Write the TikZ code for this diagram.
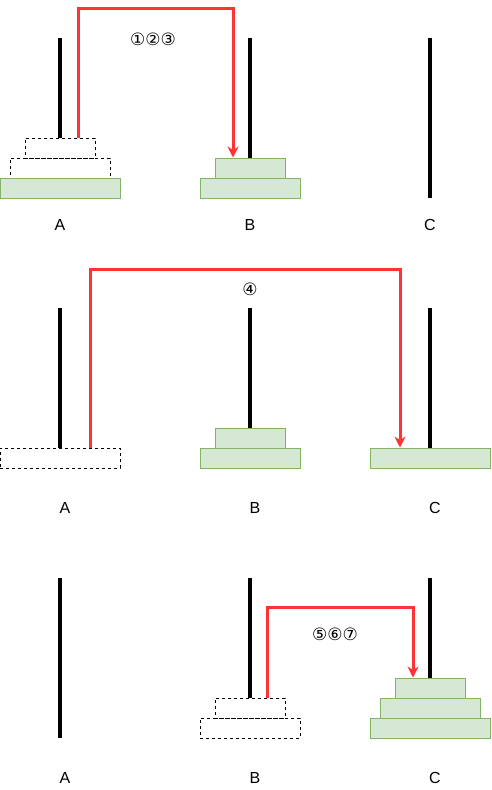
\documentclass[tikz,border=0pt]{standalone}
\usepackage{fontspec}
\setmainfont{Liberation Sans}
\newfontfamily\circfont{DejaVu Sans}
\usepackage{xcolor}
\usetikzlibrary{arrows.meta, positioning}
\definecolor{diskfill}{HTML}{D5E8D4}
\definecolor{diskline}{HTML}{82B366}
\definecolor{moved}{HTML}{FF3333}

\begin{document}
\begin{tikzpicture}[x=1pt, y=-1pt,
            disk/.style={rectangle, draw=diskline, fill=diskfill, line width=1pt, minimum height=20pt, inner sep=0pt},
            ghost/.style={rectangle, draw=black, dash pattern=on 3pt off 3pt, line width=0.8pt, minimum height=20pt, inner sep=0pt},
            small/.style={minimum width=70pt},
            mid/.style={minimum width=100pt},
            big/.style={minimum width=120pt},
            peg/.style={line width=4pt, black},
            move/.style={draw=moved, line width=3pt, -{Stealth[length=11pt, width=11pt]}},
            tag/.style={font=\fontsize{16}{19}\selectfont},
            steps/.style={font=\circfont\fontsize{17}{20}\selectfont}]
            \useasboundingbox (0,0) rectangle (491,790);

            % first row: three disks to B
            \node[ghost, small] (a1s) at (60,148) {};
            \node[ghost, mid] (a1m) at (60,168) {};
            \node[disk, big] (a1b) at (60,188) {};
            \node[disk, small] (b1s) at (250,168) {};
            \node[disk, mid] (b1m) at (250,188) {};
            \draw[peg] (60,38) -- (a1s.north);
            \draw[peg] (250,38) -- (b1s.north);
            \draw[peg] (430,38) -- (430,198);
            \coordinate (t1) at (78,8);
            \draw[move] ([xshift=18pt]a1s.north) |- (t1) -| ([xshift=-17pt]b1s.north);
            \node[steps] (s1) at (153,39) {①②③};
            \node[tag] (la1) at (60,225) {A};
            \node[tag] (lb1) at (250,225) {B};
            \node[tag] (lc1) at (430,225) {C};

            % second row: largest disk to C
            \node[ghost, big] (a2b) at (60,458) {};
            \node[disk, small] (b2s) at (250,438) {};
            \node[disk, mid] (b2m) at (250,458) {};
            \node[disk, big] (c2b) at (430,458) {};
            \draw[peg] (60,308) -- (a2b.north);
            \draw[peg] (250,308) -- (b2s.north);
            \draw[peg] (430,308) -- (c2b.north);
            \coordinate (t2) at (90,269);
            \draw[move] ([xshift=30pt]a2b.north) |- (t2) -| ([xshift=-30pt]c2b.north);
            \node[steps] (s2) at (250,289) {④};
            \node[tag] (la2) at (65,508) {A};
            \node[tag] (lb2) at (255,508) {B};
            \node[tag] (lc2) at (435,508) {C};

            % third row: two disks from B to C
            \node[ghost, small] (b3s) at (250,708) {};
            \node[ghost, mid] (b3m) at (250,728) {};
            \node[disk, small] (c3s) at (430,688) {};
            \node[disk, mid] (c3m) at (430,708) {};
            \node[disk, big] (c3b) at (430,728) {};
            \draw[peg] (60,578) -- (60,738);
            \draw[peg] (250,578) -- (b3s.north);
            \draw[peg] (430,578) -- (c3s.north);
            \coordinate (t3) at (267,607);
            \draw[move] ([xshift=17pt]b3s.north) |- (t3) -| ([xshift=-17pt]c3s.north);
            \node[steps] (s3) at (335,634) {⑤⑥⑦};
            \node[tag] (la3) at (65,778) {A};
            \node[tag] (lb3) at (255,778) {B};
            \node[tag] (lc3) at (435,778) {C};
        \end{tikzpicture}
\end{document}
